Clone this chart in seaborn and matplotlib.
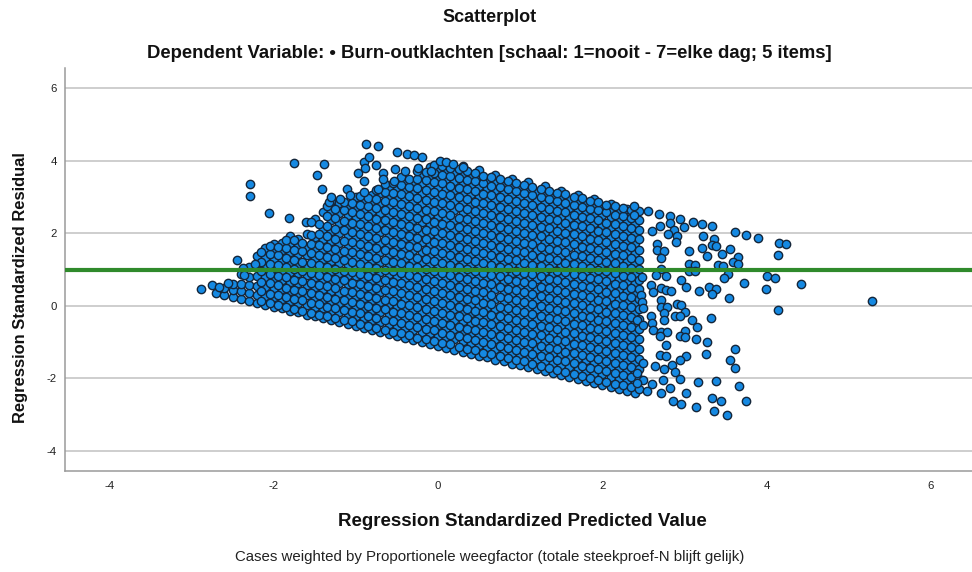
import matplotlib
matplotlib.use("Agg")
import matplotlib.pyplot as plt
import pandas as pd
import seaborn as sns

TITLE = "Scatterplot"
SUBTITLE = "Dependent Variable: \u2022 Burn-outklachten [schaal: 1=nooit - 7=elke dag; 5 items]"
XLABEL = "Regression Standardized Predicted Value"
YLABEL = "Regression Standardized Residual"
NOTE = "Cases weighted by Proportionele weegfactor (totale steekproef-N blijft gelijk)"
X_TICKS = [-4, -2, 0, 2, 4, 6]
Y_TICKS = [-4, -2, 0, 2, 4, 6]
REFERENCE_LEVEL = 1

# Dense body of the cloud, read column by column: predicted value -> residuals
column_x = [-2.7, -2.6, -2.5, -2.4, -2.3, -2.2, -2.1, -2.0, -1.9, -1.8, -1.7, -1.6, -1.5, -1.4,
            -1.3, -1.2, -1.1, -1.0, -0.9, -0.8, -0.7, -0.6, -0.5, -0.4, -0.3, -0.2, -0.1, 0.0,
            0.1, 0.2, 0.3, 0.4, 0.5, 0.6, 0.7, 0.8, 0.9, 1.0, 1.1, 1.2, 1.3, 1.4, 1.5, 1.6, 1.7,
            1.8, 1.9, 2.0, 2.1, 2.2, 2.3, 2.4]
column_residuals = [
    [0.36],
    [0.30, 0.50],
    [0.25, 0.44, 0.61],
    [0.20, 0.41, 0.60, 0.88],
    [0.14, 0.35, 0.58, 0.80, 1.07],
    [0.09, 0.30, 0.55, 0.82, 1.08, 1.38],
    [0.03, 0.27, 0.52, 0.79, 1.05, 1.32, 1.58],
    [-0.02, 0.24, 0.48, 0.76, 1.03, 1.29, 1.55, 1.70],
    [-0.07, 0.20, 0.46, 0.72, 1.00, 1.26, 1.53, 1.72],
    [-0.13, 0.12, 0.40, 0.66, 0.93, 1.21, 1.47, 1.74, 1.93],
    [-0.18, 0.08, 0.35, 0.62, 0.90, 1.16, 1.43, 1.66, 1.85],
    [-0.24, 0.03, 0.29, 0.57, 0.84, 1.11, 1.39, 1.63, 1.98],
    [-0.29, -0.03, 0.25, 0.52, 0.79, 1.06, 1.33, 1.60, 1.90, 2.38],
    [-0.34, -0.07, 0.19, 0.47, 0.74, 1.02, 1.28, 1.56, 1.84, 2.12, 2.58],
    [-0.40, -0.13, 0.14, 0.41, 0.69, 0.96, 1.24, 1.50, 1.79, 2.05, 2.35, 2.62, 2.88],
    [-0.45, -0.17, 0.09, 0.36, 0.64, 0.91, 1.18, 1.46, 1.73, 2.00, 2.28, 2.55, 2.82],
    [-0.51, -0.23, 0.04, 0.31, 0.59, 0.86, 1.13, 1.41, 1.68, 1.95, 2.22, 2.50, 2.78],
    [-0.56, -0.28, -0.02, 0.26, 0.53, 0.81, 1.08, 1.35, 1.63, 1.90, 2.18, 2.44, 2.72, 3.00],
    [-0.61, -0.33, -0.06, 0.21, 0.48, 0.76, 1.03, 1.30, 1.58, 1.85, 2.12, 2.40, 2.67, 2.90],
    [-0.67, -0.39, -0.12, 0.15, 0.43, 0.70, 0.98, 1.25, 1.52, 1.80, 2.07, 2.34, 2.62, 2.88, 3.05],
    [-0.72, -0.44, -0.17, 0.10, 0.38, 0.65, 0.92, 1.20, 1.47, 1.74, 2.02, 2.29, 2.56, 2.82, 3.10],
    [-0.78, -0.50, -0.22, 0.05, 0.32, 0.60, 0.87, 1.14, 1.42, 1.69, 1.96, 2.24, 2.51, 2.78, 3.02, 3.28],
    [-0.83, -0.55, -0.28, 0.00, 0.27, 0.54, 0.82, 1.09, 1.36, 1.64, 1.91, 2.18, 2.46, 2.73, 3.00, 3.22],
    [-0.88, -0.60, -0.33, -0.06, 0.22, 0.49, 0.76, 1.04, 1.31, 1.58, 1.86, 2.13, 2.40, 2.68, 2.95, 3.20, 3.45],
    [-0.94, -0.66, -0.38, -0.11, 0.16, 0.44, 0.71, 0.98, 1.26, 1.53, 1.80, 2.08, 2.35, 2.62, 2.90, 3.16, 3.40],
    [-0.99, -0.71, -0.44, -0.16, 0.11, 0.38, 0.66, 0.93, 1.20, 1.48, 1.75, 2.02, 2.30, 2.57, 2.84, 3.12, 3.38, 3.62],
    [-1.05, -0.76, -0.49, -0.22, 0.06, 0.33, 0.60, 0.88, 1.15, 1.42, 1.70, 1.97, 2.24, 2.52, 2.79, 3.06, 3.34, 3.58, 3.82],
    [-1.10, -0.82, -0.54, -0.27, 0.00, 0.28, 0.55, 0.82, 1.10, 1.37, 1.64, 1.92, 2.19, 2.46, 2.74, 3.01, 3.28, 3.54, 3.76],
    [-1.15, -0.87, -0.60, -0.32, -0.05, 0.22, 0.50, 0.77, 1.04, 1.32, 1.59, 1.86, 2.14, 2.41, 2.68, 2.96, 3.23, 3.50, 3.72, 3.92],
    [-1.21, -0.92, -0.65, -0.38, -0.10, 0.17, 0.44, 0.72, 0.99, 1.26, 1.54, 1.81, 2.08, 2.36, 2.63, 2.90, 3.18, 3.45, 3.68],
    [-1.26, -0.98, -0.70, -0.43, -0.16, 0.12, 0.39, 0.66, 0.94, 1.21, 1.48, 1.76, 2.03, 2.30, 2.58, 2.85, 3.12, 3.40, 3.62, 3.84],
    [-1.32, -1.03, -0.76, -0.48, -0.21, 0.06, 0.34, 0.61, 0.88, 1.16, 1.43, 1.70, 1.98, 2.25, 2.52, 2.80, 3.07, 3.34, 3.60],
    [-1.37, -1.08, -0.81, -0.54, -0.26, 0.01, 0.28, 0.56, 0.83, 1.10, 1.38, 1.65, 1.92, 2.20, 2.47, 2.74, 3.02, 3.29, 3.54, 3.74],
    [-1.42, -1.14, -0.86, -0.59, -0.32, -0.04, 0.23, 0.50, 0.78, 1.05, 1.32, 1.60, 1.87, 2.14, 2.42, 2.69, 2.96, 3.24, 3.46],
    [-1.48, -1.19, -0.92, -0.64, -0.37, -0.10, 0.18, 0.45, 0.72, 1.00, 1.27, 1.54, 1.82, 2.09, 2.36, 2.64, 2.91, 3.18, 3.40, 3.60],
    [-1.53, -1.25, -0.97, -0.70, -0.42, -0.15, 0.12, 0.40, 0.67, 0.94, 1.22, 1.49, 1.76, 2.04, 2.31, 2.58, 2.86, 3.13, 3.36],
    [-1.59, -1.30, -1.02, -0.75, -0.48, -0.20, 0.07, 0.34, 0.62, 0.89, 1.16, 1.44, 1.71, 1.98, 2.26, 2.53, 2.80, 3.08, 3.30, 3.50],
    [-1.64, -1.35, -1.08, -0.80, -0.53, -0.26, 0.02, 0.29, 0.56, 0.84, 1.11, 1.38, 1.66, 1.93, 2.20, 2.48, 2.75, 3.02, 3.25],
    [-1.69, -1.41, -1.13, -0.86, -0.58, -0.31, -0.04, 0.24, 0.51, 0.78, 1.06, 1.33, 1.60, 1.88, 2.15, 2.42, 2.70, 2.97, 3.20, 3.40],
    [-1.75, -1.46, -1.18, -0.91, -0.64, -0.36, -0.09, 0.18, 0.46, 0.73, 1.00, 1.28, 1.55, 1.82, 2.10, 2.37, 2.64, 2.92, 3.14],
    [-1.80, -1.52, -1.24, -0.96, -0.69, -0.42, -0.14, 0.13, 0.40, 0.68, 0.95, 1.22, 1.50, 1.77, 2.04, 2.32, 2.59, 2.86, 3.08, 3.30],
    [-1.86, -1.57, -1.29, -1.02, -0.74, -0.47, -0.20, 0.08, 0.35, 0.62, 0.90, 1.17, 1.44, 1.72, 1.99, 2.26, 2.54, 2.81, 3.03],
    [-1.91, -1.62, -1.34, -1.07, -0.80, -0.52, -0.25, 0.02, 0.30, 0.57, 0.84, 1.12, 1.39, 1.66, 1.94, 2.21, 2.48, 2.76, 2.98, 3.16],
    [-1.96, -1.68, -1.40, -1.12, -0.85, -0.58, -0.30, -0.03, 0.24, 0.52, 0.79, 1.06, 1.34, 1.61, 1.88, 2.16, 2.43, 2.70, 2.92],
    [-2.02, -1.73, -1.45, -1.18, -0.90, -0.63, -0.36, -0.08, 0.19, 0.46, 0.74, 1.01, 1.28, 1.56, 1.83, 2.10, 2.38, 2.65, 2.88, 3.05],
    [-2.07, -1.79, -1.50, -1.23, -0.96, -0.68, -0.41, -0.14, 0.14, 0.41, 0.68, 0.96, 1.23, 1.50, 1.78, 2.05, 2.32, 2.60, 2.82],
    [-2.13, -1.84, -1.56, -1.28, -1.01, -0.74, -0.46, -0.19, 0.08, 0.36, 0.63, 0.90, 1.18, 1.45, 1.72, 2.00, 2.27, 2.54, 2.78, 2.94],
    [-2.18, -1.89, -1.61, -1.34, -1.06, -0.79, -0.52, -0.24, 0.03, 0.30, 0.58, 0.85, 1.12, 1.40, 1.67, 1.94, 2.22, 2.49, 2.70],
    [-2.23, -1.95, -1.66, -1.39, -1.12, -0.84, -0.57, -0.30, -0.02, 0.25, 0.52, 0.80, 1.07, 1.34, 1.62, 1.89, 2.16, 2.44, 2.66, 2.80],
    [-2.29, -2.00, -1.72, -1.44, -1.17, -0.90, -0.62, -0.35, -0.08, 0.20, 0.47, 0.74, 1.02, 1.29, 1.56, 1.84, 2.11, 2.38, 2.62],
    [-2.34, -2.05, -1.77, -1.50, -1.22, -0.95, -0.68, -0.40, -0.13, 0.14, 0.42, 0.69, 0.96, 1.24, 1.51, 1.78, 2.06, 2.33, 2.58, 2.68],
    [-2.40, -2.11, -1.82, -1.55, -1.28, -1.00, -0.73, -0.46, -0.18, 0.09, 0.36, 0.64, 0.91, 1.18, 1.46, 1.73, 2.00, 2.28, 2.50],
]

# Points lying between those columns
between_x = [-2.15, -2.05, -1.95, -1.85, -1.75, -1.65, -1.55, -1.45, -1.35, -1.25, -1.15, -1.05, -0.95, -0.85,
             -0.75, -0.65, -0.55, -0.45, -0.35, -0.25, -0.15, -0.05, 0.05, 0.15, 0.25, 0.35, 0.45, 0.55, 0.65,
             0.75, 0.85, 0.95, 1.05, 1.15, 1.25, 1.35, 1.45, 1.55, 1.65, 1.75, 1.85, 1.95, 2.05, 2.15, 2.25, 2.35, 2.45]
between_residuals = [
    [0.14, 0.41, 0.66, 0.95, 1.22, 1.47],
    [0.09, 0.33, 0.62, 0.88, 1.16, 1.44, 1.66],
    [0.02, 0.31, 0.58, 0.83, 1.12, 1.40, 1.62],
    [-0.03, 0.24, 0.50, 0.80, 1.07, 1.33, 1.60, 1.82],
    [-0.10, 0.18, 0.44, 0.72, 1.01, 1.26, 1.55, 1.80],
    [-0.14, 0.15, 0.41, 0.68, 0.97, 1.22, 1.50, 1.74],
    [-0.19, 0.07, 0.36, 0.62, 0.90, 1.17, 1.46, 1.70, 1.95],
    [-0.24, 0.04, 0.30, 0.57, 0.86, 1.12, 1.40, 1.67, 1.97, 2.25],
    [-0.28, -0.03, 0.25, 0.54, 0.80, 1.08, 1.35, 1.61, 1.91, 2.20, 2.48, 2.75],
    [-0.34, -0.06, 0.20, 0.49, 0.75, 1.02, 1.31, 1.57, 1.85, 2.12, 2.41, 2.68],
    [-0.40, -0.12, 0.15, 0.42, 0.71, 0.97, 1.26, 1.52, 1.79, 2.08, 2.34, 2.63, 2.86],
    [-0.43, -0.17, 0.10, 0.38, 0.64, 0.93, 1.20, 1.47, 1.75, 2.02, 2.29, 2.57, 2.84],
    [-0.50, -0.21, 0.05, 0.32, 0.60, 0.87, 1.14, 1.43, 1.69, 1.97, 2.24, 2.52, 2.79, 3.02],
    [-0.56, -0.28, 0.00, 0.27, 0.55, 0.81, 1.10, 1.37, 1.64, 1.91, 2.19, 2.46, 2.74, 2.98],
    [-0.60, -0.33, -0.05, 0.21, 0.50, 0.77, 1.03, 1.32, 1.59, 1.86, 2.14, 2.40, 2.69, 2.95, 3.18],
    [-0.66, -0.38, -0.10, 0.17, 0.44, 0.72, 0.99, 1.26, 1.54, 1.81, 2.08, 2.36, 2.63, 2.90, 3.14, 3.36],
    [-0.72, -0.41, -0.16, 0.12, 0.40, 0.66, 0.95, 1.21, 1.49, 1.77, 2.03, 2.31, 2.58, 2.86, 3.12, 3.38],
    [-0.76, -0.48, -0.20, 0.06, 0.34, 0.62, 0.89, 1.17, 1.43, 1.71, 1.98, 2.26, 2.53, 2.80, 3.07, 3.32, 3.55],
    [-0.80, -0.53, -0.26, 0.03, 0.29, 0.56, 0.85, 1.11, 1.39, 1.66, 1.93, 2.21, 2.47, 2.76, 3.03, 3.28, 3.50],
    [-0.88, -0.57, -0.31, -0.04, 0.24, 0.52, 0.78, 1.06, 1.33, 1.61, 1.88, 2.15, 2.43, 2.70, 2.97, 3.25, 3.50, 3.70],
    [-0.92, -0.64, -0.35, -0.09, 0.20, 0.46, 0.73, 1.02, 1.28, 1.55, 1.83, 2.10, 2.38, 2.65, 2.92, 3.20, 3.46, 3.68],
    [-0.97, -0.68, -0.42, -0.13, 0.13, 0.41, 0.69, 0.95, 1.23, 1.51, 1.77, 2.05, 2.32, 2.60, 2.87, 3.14, 3.42, 3.66, 3.88],
    [-1.03, -0.75, -0.46, -0.20, 0.08, 0.36, 0.62, 0.91, 1.17, 1.45, 1.73, 2.00, 2.26, 2.55, 2.82, 3.09, 3.37, 3.61, 3.86],
    [-1.06, -0.80, -0.52, -0.24, 0.03, 0.30, 0.58, 0.85, 1.13, 1.40, 1.67, 1.94, 2.22, 2.49, 2.77, 3.04, 3.31, 3.58, 3.80],
    [-1.14, -0.84, -0.57, -0.29, -0.03, 0.25, 0.53, 0.79, 1.07, 1.35, 1.61, 1.89, 2.17, 2.43, 2.71, 2.99, 3.25, 3.53, 3.76],
    [-1.19, -0.90, -0.63, -0.34, -0.08, 0.20, 0.47, 0.75, 1.01, 1.29, 1.57, 1.84, 2.11, 2.38, 2.66, 2.93, 3.21, 3.47, 3.70],
    [-1.22, -0.95, -0.66, -0.41, -0.13, 0.15, 0.41, 0.69, 0.97, 1.23, 1.51, 1.79, 2.05, 2.33, 2.61, 2.87, 3.15, 3.43, 3.66],
    [-1.29, -1.00, -0.73, -0.45, -0.18, 0.09, 0.37, 0.63, 0.91, 1.19, 1.45, 1.73, 2.01, 2.27, 2.55, 2.83, 3.09, 3.37, 3.58],
    [-1.33, -1.06, -0.78, -0.50, -0.24, 0.04, 0.31, 0.59, 0.85, 1.13, 1.41, 1.68, 1.95, 2.22, 2.50, 2.77, 3.05, 3.31, 3.54],
    [-1.39, -1.11, -0.82, -0.56, -0.28, -0.02, 0.25, 0.53, 0.81, 1.07, 1.35, 1.63, 1.89, 2.17, 2.45, 2.71, 2.99, 3.27, 3.48],
    [-1.44, -1.16, -0.89, -0.60, -0.34, -0.06, 0.21, 0.47, 0.75, 1.03, 1.29, 1.57, 1.85, 2.11, 2.39, 2.67, 2.93, 3.21, 3.44],
    [-1.50, -1.21, -0.94, -0.67, -0.38, -0.12, 0.15, 0.43, 0.69, 0.97, 1.25, 1.51, 1.79, 2.07, 2.33, 2.61, 2.89, 3.15, 3.38],
    [-1.53, -1.27, -0.99, -0.71, -0.45, -0.16, 0.10, 0.37, 0.65, 0.91, 1.19, 1.47, 1.73, 2.01, 2.29, 2.55, 2.83, 3.11, 3.32],
    [-1.60, -1.32, -1.03, -0.77, -0.49, -0.23, 0.05, 0.32, 0.59, 0.87, 1.13, 1.41, 1.69, 1.95, 2.23, 2.51, 2.77, 3.05, 3.28],
    [-1.65, -1.37, -1.10, -0.81, -0.55, -0.27, -0.01, 0.27, 0.53, 0.81, 1.09, 1.35, 1.63, 1.91, 2.17, 2.45, 2.73, 2.99, 3.22],
    [-1.71, -1.42, -1.15, -0.88, -0.59, -0.33, -0.05, 0.21, 0.49, 0.75, 1.03, 1.31, 1.57, 1.85, 2.13, 2.39, 2.67, 2.95, 3.16],
    [-1.76, -1.48, -1.19, -0.93, -0.65, -0.37, -0.11, 0.17, 0.43, 0.71, 0.97, 1.25, 1.53, 1.79, 2.07, 2.35, 2.61, 2.89, 3.10],
    [-1.83, -1.53, -1.26, -0.97, -0.71, -0.43, -0.15, 0.11, 0.39, 0.65, 0.93, 1.19, 1.47, 1.75, 2.01, 2.29, 2.57, 2.83, 3.07],
    [-1.87, -1.58, -1.31, -1.04, -0.75, -0.49, -0.21, 0.07, 0.33, 0.61, 0.87, 1.15, 1.41, 1.69, 1.97, 2.23, 2.51, 2.79, 3.00],
    [-1.93, -1.65, -1.35, -1.09, -0.82, -0.53, -0.27, 0.01, 0.29, 0.55, 0.83, 1.09, 1.37, 1.63, 1.91, 2.19, 2.45, 2.73, 2.96],
    [-1.98, -1.70, -1.42, -1.13, -0.87, -0.60, -0.31, -0.05, 0.23, 0.51, 0.77, 1.05, 1.31, 1.59, 1.85, 2.13, 2.41, 2.67, 2.90],
    [-2.03, -1.75, -1.47, -1.20, -0.91, -0.65, -0.38, -0.09, 0.17, 0.45, 0.73, 0.99, 1.27, 1.53, 1.81, 2.07, 2.35, 2.63, 2.85],
    [-2.09, -1.80, -1.53, -1.25, -0.98, -0.69, -0.43, -0.16, 0.13, 0.39, 0.67, 0.95, 1.21, 1.49, 1.75, 2.03, 2.29, 2.57, 2.78],
    [-2.14, -1.86, -1.57, -1.31, -1.03, -0.76, -0.47, -0.21, 0.06, 0.35, 0.61, 0.89, 1.17, 1.43, 1.71, 1.97, 2.25, 2.51, 2.74],
    [-2.19, -1.91, -1.63, -1.35, -1.09, -0.81, -0.54, -0.25, 0.01, 0.28, 0.57, 0.83, 1.11, 1.39, 1.65, 1.93, 2.19, 2.47, 2.69],
    [-2.25, -1.96, -1.69, -1.41, -1.13, -0.87, -0.59, -0.32, -0.03, 0.23, 0.50, 0.79, 1.05, 1.33, 1.61, 1.87, 2.15, 2.41, 2.64],
    [-2.30, -2.02, -1.73, -1.47, -1.19, -0.91, -0.65, -0.37, -0.10, 0.19, 0.45, 0.72, 1.01, 1.27, 1.55, 1.83, 2.09, 2.37, 2.60],
]

# Sparse points around the edges of the cloud, read one by one
sparse_x = [-2.88, -2.75, -2.66, -2.56, -2.45, -2.37, -2.36, -2.23, -2.29, -2.29, -2.06, -1.81, -1.75, -1.61, -1.55,
            -1.47, -1.41, -1.39, -1.33, -1.30, -1.19, -1.11, -1.07, -0.97, -0.90, -0.90, -0.90, -0.89, -0.88, -0.84,
            -0.75, -0.73, -0.73, -0.67, -0.67, -0.54, -0.52, -0.50, -0.40, -0.38, -0.29, -0.24, -0.20, -0.08, 0.02,
            0.10, 0.18, 0.31,
            2.38, 2.56, 2.69, 2.83, 2.94, 3.11, 3.21, 3.33, 2.38, 2.82, 3.00, 2.70, 2.61, 2.87, 2.80, 2.91, 2.90, 3.22,
            3.36, 3.62, 3.75, 3.90, 4.15, 4.23, 4.14, 2.66, 3.05, 3.21, 3.33, 3.38, 3.55, 3.46, 3.27, 2.66, 2.75, 2.72,
            3.06, 3.13, 3.06, 3.13, 3.41, 3.47, 3.65, 3.59, 3.65, 3.53, 3.48, 2.72, 2.65, 2.77, 2.48, 4.00, 4.10, 4.14,
            2.96, 3.73, 3.99, 2.59, 2.72, 2.78, 2.84, 3.02, 3.18, 3.30, 3.39, 3.34, 2.62, 3.54, 2.71, 2.47, 2.48, 2.49,
            2.71, 2.79, 2.91, 2.96, 2.75, 3.01, 2.88, 2.94, 2.59, 2.75, 3.09, 3.32, 3.15, 2.61, 2.42, 2.50, 2.62, 2.72,
            2.79, 3.01, 2.94, 3.01, 3.14, 3.27, 2.70, 2.77, 3.62, 3.26, 3.02, 2.94, 3.56, 3.62, 2.70, 2.77, 2.50, 2.64,
            2.75, 2.85, 2.88, 2.94, 2.74, 3.17, 3.39, 3.67, 2.60, 2.83, 3.02, 3.34, 3.45, 3.75, 2.72, 2.86, 2.96, 3.14,
            3.36, 3.52, 2.42, 2.50, 2.54, 2.42, 4.42, 5.28]
sparse_y = [0.47, 0.58, 0.52, 0.64, 1.25, 1.04, 0.85, 1.15, 3.36, 3.03, 2.55, 2.43, 3.93, 2.32, 2.30,
            3.59, 3.22, 3.90, 2.86, 3.01, 2.95, 3.22, 3.06, 3.67, 3.96, 3.45, 3.13, 3.79, 4.46, 4.11,
            3.88, 4.39, 3.21, 3.67, 3.49, 3.45, 3.76, 4.25, 3.70, 4.19, 4.14, 3.79, 4.10, 3.70, 3.98,
            3.95, 3.90, 3.82,
            2.74, 2.62, 2.54, 2.46, 2.40, 2.31, 2.26, 2.19, 2.51, 2.28, 2.17, 2.21, 2.07, 2.10, 1.98, 1.93, 1.75, 1.91,
            1.84, 2.03, 1.96, 1.88, 1.74, 1.69, 1.41, 1.71, 1.50, 1.58, 1.68, 1.65, 1.56, 1.43, 1.38, 1.53, 1.50, 1.33,
            1.15, 1.13, 0.97, 0.95, 1.13, 1.11, 1.34, 1.20, 1.16, 0.88, 0.76, 1.01, 0.86, 0.81, 0.79, 0.81, 0.76, -0.11,
            0.70, 0.63, 0.47, 0.58, 0.49, 0.44, 0.42, 0.51, 0.41, 0.52, 0.47, 0.32, 0.38, 0.21, 0.17, 0.30, 0.10, -0.06,
            -0.02, -0.04, 0.05, 0.03, -0.20, -0.17, -0.27, -0.29, -0.29, -0.38, -0.38, -0.34, -0.59, -0.48, -0.38, -0.52, -0.66, -0.71,
            -0.73, -0.69, -0.82, -0.87, -0.92, -1.00, -0.84, -1.07, -1.18, -1.32, -1.37, -1.49, -1.49, -1.70, -1.35, -1.39, -1.58, -1.67,
            -1.73, -1.62, -1.81, -2.01, -2.05, -2.11, -2.06, -2.22, -2.15, -2.27, -2.39, -2.54, -2.61, -2.61, -2.39, -2.63, -2.70, -2.79,
            -2.91, -3.00, -1.85, -2.04, -2.36, -2.13, 0.59, 0.13]

predicted = ([x for x, col in zip(column_x, column_residuals) for _ in col]
             + [x for x, col in zip(between_x, between_residuals) for _ in col] + sparse_x)
residual = ([y for col in column_residuals for y in col]
            + [y for col in between_residuals for y in col] + sparse_y)
points = pd.DataFrame({"predicted": predicted, "residual": residual})

sns.set_theme(style="white")
plt.rcParams["font.family"] = ["Liberation Sans", "DejaVu Sans"]
plt.rcParams["axes.unicode_minus"] = False

fig = plt.figure(figsize=(9.72, 5.72), dpi=100, facecolor="white")
ax = fig.add_axes([65 / 972, 101 / 572, 907 / 972, 403 / 572])

sns.scatterplot(data=points, x="predicted", y="residual", ax=ax, s=36, color="#1589e2",
                edgecolor="#14263a", linewidth=1.0, zorder=3)
ax.axhline(REFERENCE_LEVEL, color="#2f8a2b", lw=3.0, zorder=4)

ax.set_xlim(-4.54, 6.5)
ax.set_ylim(-4.55, 6.55)
ax.set_xticks(X_TICKS)
ax.set_yticks(Y_TICKS)
ax.yaxis.grid(True, color="#cacaca", lw=1.3, zorder=0)
ax.xaxis.grid(False)
ax.set_axisbelow(True)
ax.tick_params(axis="x", length=0, labelsize=8.2, labelcolor="#222222", pad=7)
ax.tick_params(axis="y", length=0, labelsize=8.2, labelcolor="#222222", pad=6)
for side in ["top", "right"]:
    ax.spines[side].set_visible(False)
for side in ["left", "bottom"]:
    ax.spines[side].set_color("#9a9a9a")
    ax.spines[side].set_linewidth(1.1)

ax.set_xlabel("")
ax.set_ylabel("")
fig.text(522 / 972, 1 - 521 / 572, XLABEL, ha="center", va="center", fontsize=13.5, fontweight="bold", color="#111111")
fig.text(21 / 972, 1 - 288 / 572, YLABEL, ha="center", va="center", rotation=90, fontsize=11.9, fontweight="bold", color="#111111")
fig.text(490 / 972, 1 - 18 / 572, TITLE, ha="center", va="center", fontsize=13, fontweight="bold", color="#111111")
fig.text(489 / 972, 1 - 53 / 572, SUBTITLE, ha="center", va="center", fontsize=13.3, fontweight="bold", color="#111111")
fig.text(490 / 972, 1 - 557 / 572, NOTE, ha="center", va="center", fontsize=10.8, color="#222222")

fig.savefig("out.png", dpi=100)
